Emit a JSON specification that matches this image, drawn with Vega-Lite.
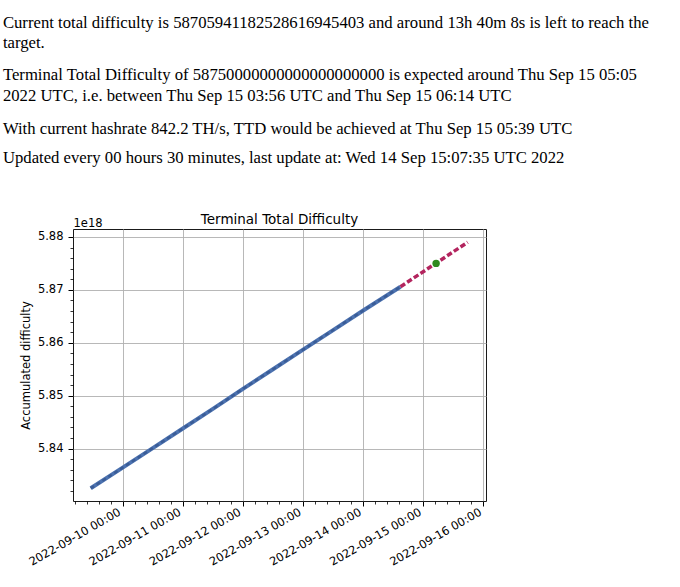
{
  "$schema": "https://vega.github.io/schema/vega-lite/v6.json",
  "background": "white",
  "padding": {"left": 2, "top": 15, "right": 5, "bottom": 5},
  "config": {
    "view": {"stroke": "#1a1a1a", "strokeWidth": 1},
    "title": {"font": "Liberation Serif", "fontSize": 16.7, "fontWeight": "normal", "color": "black", "anchor": "start", "baseline": "top"}
  },
  "datasets": {
    "actual": [
      {"time": "2022-09-09T11:14:00Z", "difficulty": 5.8325},
      {"time": "2022-09-10T00:00:00Z", "difficulty": 5.8364},
      {"time": "2022-09-10T12:00:00Z", "difficulty": 5.8401},
      {"time": "2022-09-11T00:00:00Z", "difficulty": 5.8438},
      {"time": "2022-09-11T12:00:00Z", "difficulty": 5.8475},
      {"time": "2022-09-12T00:00:00Z", "difficulty": 5.8513},
      {"time": "2022-09-12T12:00:00Z", "difficulty": 5.855},
      {"time": "2022-09-13T00:00:00Z", "difficulty": 5.8587},
      {"time": "2022-09-13T12:00:00Z", "difficulty": 5.8624},
      {"time": "2022-09-14T00:00:00Z", "difficulty": 5.8661},
      {"time": "2022-09-14T14:52:00Z", "difficulty": 5.87059}
    ],
    "projection": [
      {"time": "2022-09-14T14:52:00Z", "difficulty": 5.87059},
      {"time": "2022-09-15T17:42:00Z", "difficulty": 5.879}
    ],
    "ttd": [
      {"time": "2022-09-15T05:05:00Z", "difficulty": 5.875}
    ]
  },
  "title": {
    "text": [
      "Current total difficulty is 58705941182528616945403 and around 13h 40m 8s is left to reach the",
      "target."
    ],
    "lineHeight": 20,
    "offset": 15
  },
  "vconcat": [
    {
      "title": {
        "text": [
          "Terminal Total Difficulty of 58750000000000000000000 is expected around Thu Sep 15 05:05",
          "2022 UTC, i.e. between Thu Sep 15 03:56 UTC and Thu Sep 15 06:14 UTC"
        ],
        "lineHeight": 21,
        "offset": 16
      },
      "vconcat": [
        {
          "title": {
            "text": "With current hashrate 842.2 TH/s, TTD would be achieved at Thu Sep 15 05:39 UTC",
            "offset": 13
          },
          "vconcat": [
            {
              "title": {
                "text": "Updated every 00 hours 30 minutes, last update at: Wed 14 Sep 15:07:35 UTC 2022",
                "offset": 45,
                "dx": -17
              },
              "vconcat": [
                {
                  "width": 413,
                  "height": 272,
                  "title": {
                    "text": "Terminal Total Difficulty",
                    "font": "DejaVu Sans",
                    "fontSize": 13.5,
                    "fontWeight": "normal",
                    "color": "black",
                    "anchor": "middle",
                    "baseline": "bottom",
                    "offset": -23
                  },
                  "resolve": {"axis": {"x": "independent", "y": "independent"}},
                  "layer": [
                    {
                      "data": {"name": "actual"},
                      "mark": {"type": "line", "color": "#4c72b0", "strokeWidth": 4, "strokeCap": "butt"},
                      "encoding": {
                        "x": {
                          "field": "time",
                          "type": "temporal",
                          "scale": {"type": "utc", "domain": [1662696600000, 1663290000000], "nice": false},
                          "axis": {
                            "orient": "bottom",
                            "values": [1662768000000, 1662854400000, 1662940800000, 1663027200000, 1663113600000, 1663200000000, 1663286400000],
                            "labelExpr": "utcFormat(datum.value, '%Y-%m-%d %H:%M')",
                            "labelAngle": -30,
                            "labelAlign": "right",
                            "labelBaseline": "top",
                            "labelPadding": 0,
                            "labelOffset": -6,
                            "labelFont": "DejaVu Sans",
                            "labelFontSize": 11.5,
                            "labelColor": "black",
                            "labelOverlap": false,
                            "labelFlush": false,
                            "grid": true,
                            "gridColor": "#b0b0b0",
                            "gridWidth": 0.9,
                            "domain": false,
                            "ticks": true,
                            "tickSize": 5,
                            "tickColor": "black",
                            "tickWidth": 1,
                            "title": null
                          }
                        },
                        "y": {
                          "field": "difficulty",
                          "type": "quantitative",
                          "scale": {"domain": [5.8301, 5.8815], "zero": false, "nice": false},
                          "axis": {
                            "orient": "left",
                            "values": [5.84, 5.85, 5.86, 5.87, 5.88],
                            "format": ".2f",
                            "labelFont": "DejaVu Sans",
                            "labelFontSize": 11.5,
                            "labelColor": "black",
                            "labelPadding": 5,
                            "grid": true,
                            "gridColor": "#b0b0b0",
                            "gridWidth": 0.9,
                            "domain": false,
                            "tickSize": 5,
                            "tickColor": "black",
                            "tickWidth": 1,
                            "title": "Accumulated difficulty",
                            "titleFont": "DejaVu Sans",
                            "titleFontSize": 11.5,
                            "titleFontWeight": "normal",
                            "titleColor": "black",
                            "titlePadding": 6
                          }
                        }
                      }
                    },
                    {
                      "data": {"name": "actual"},
                      "mark": {"type": "line", "color": "#2f4f86", "strokeWidth": 2.5, "strokeDash": [4, 3], "opacity": 0.6, "strokeCap": "butt"},
                      "encoding": {
                        "x": {
                          "field": "time",
                          "type": "temporal",
                          "axis": {
                            "orient": "bottom",
                            "values": [1662698880000, 1662716160000, 1662733440000, 1662750720000, 1662785280000, 1662802560000, 1662819840000, 1662837120000, 1662871680000, 1662888960000, 1662906240000, 1662923520000, 1662958080000, 1662975360000, 1662992640000, 1663009920000, 1663044480000, 1663061760000, 1663079040000, 1663096320000, 1663130880000, 1663148160000, 1663165440000, 1663182720000, 1663217280000, 1663234560000, 1663251840000, 1663269120000],
                            "labels": false,
                            "grid": false,
                            "domain": false,
                            "tickSize": 3,
                            "tickColor": "black",
                            "tickWidth": 0.8,
                            "title": null
                          }
                        },
                        "y": {
                          "field": "difficulty",
                          "type": "quantitative",
                          "axis": {
                            "orient": "left",
                            "values": [5.832, 5.834, 5.836, 5.838, 5.842, 5.844, 5.846, 5.848, 5.852, 5.854, 5.856, 5.858, 5.862, 5.864, 5.866, 5.868, 5.872, 5.874, 5.876, 5.878],
                            "labels": false,
                            "grid": false,
                            "domain": false,
                            "tickSize": 3,
                            "tickColor": "black",
                            "tickWidth": 0.8,
                            "title": null
                          }
                        }
                      }
                    },
                    {
                      "data": {"name": "projection"},
                      "mark": {"type": "line", "color": "#b3245e", "strokeWidth": 3.5, "strokeDash": [5.5, 2.5], "strokeCap": "butt"},
                      "encoding": {
                        "x": {
                          "field": "time",
                          "type": "temporal",
                          "axis": {
                            "orient": "top",
                            "labels": false,
                            "ticks": false,
                            "grid": false,
                            "domain": false,
                            "title": "1e18",
                            "titleFont": "DejaVu Sans",
                            "titleFontSize": 11.5,
                            "titleFontWeight": "normal",
                            "titleColor": "black",
                            "titleAnchor": "start",
                            "titleAlign": "left",
                            "titlePadding": 1
                          }
                        },
                        "y": {"field": "difficulty", "type": "quantitative", "axis": null}
                      }
                    },
                    {
                      "data": {"name": "ttd"},
                      "mark": {"type": "circle", "color": "#2f8a1f", "size": 55, "opacity": 1},
                      "encoding": {
                        "x": {"field": "time", "type": "temporal", "axis": null},
                        "y": {"field": "difficulty", "type": "quantitative", "axis": null}
                      }
                    }
                  ]
                }
              ]
            }
          ]
        }
      ]
    }
  ]
}
